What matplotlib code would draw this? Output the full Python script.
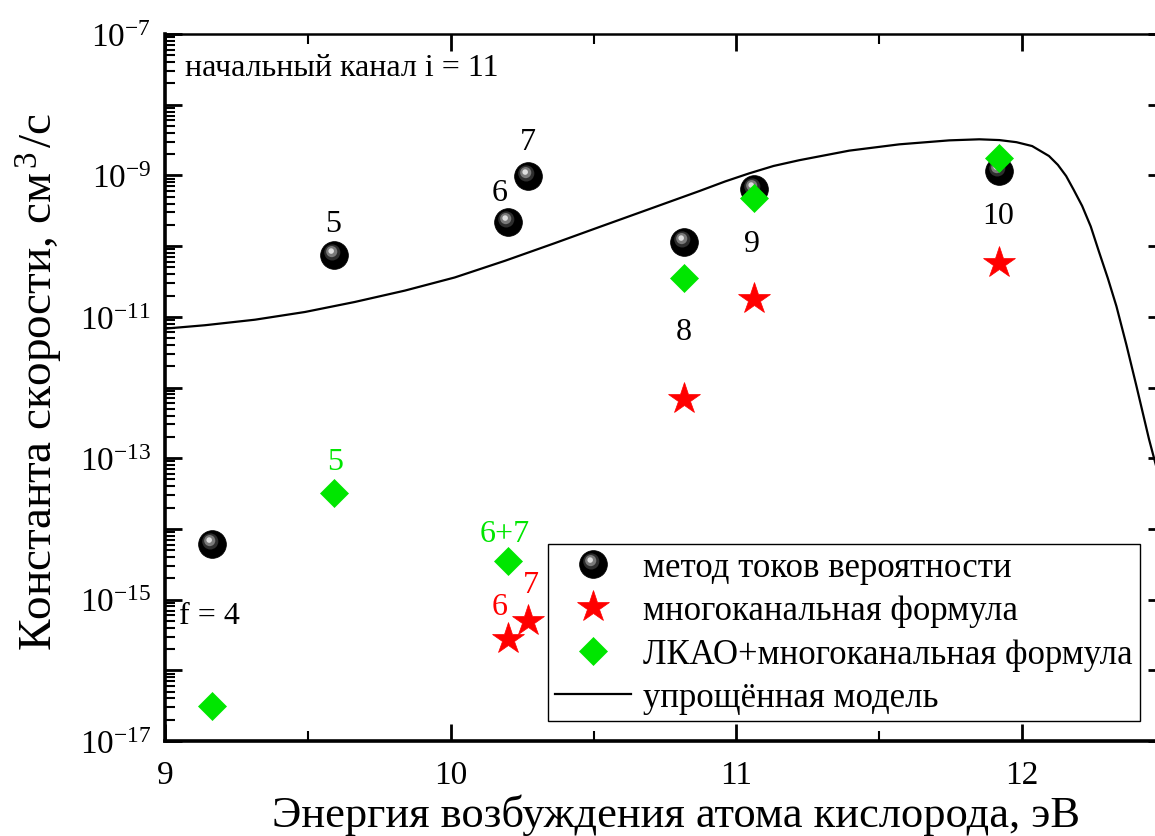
import numpy as np
import matplotlib
matplotlib.use("Agg")
import matplotlib.pyplot as plt
from matplotlib.path import Path
from matplotlib.legend_handler import HandlerTuple
from matplotlib.ticker import FixedLocator, FuncFormatter

plt.rcParams['font.family'] = ['Liberation Serif', 'DejaVu Serif']
plt.rcParams['mathtext.fontset'] = 'custom'
plt.rcParams['mathtext.rm'] = 'Liberation Serif'
plt.rcParams['mathtext.it'] = 'Liberation Serif:italic'
plt.rcParams['mathtext.default'] = 'regular'

# ---------------- data ----------------
energy_current = [9.164, 9.591, 10.199, 10.269, 10.815, 11.063, 11.92]
k_current = [6.1e-15, 7.5e-11, 2.2e-10, 9.8e-10, 1.14e-10, 6.4e-10, 1.15e-9]

energy_multi = [10.199, 10.269, 10.815, 11.063, 11.92]
k_multi = [2.8e-16, 5.0e-16, 6.9e-13, 1.8e-11, 5.8e-11]

energy_lcao = [9.164, 9.591, 10.199, 10.815, 11.063, 11.92]
k_lcao = [3.1e-17, 3.2e-14, 3.5e-15, 3.5e-11, 4.8e-10, 1.76e-9]

energy_model = [9.00, 9.14, 9.315, 9.49, 9.664, 9.84, 10.014, 10.19, 10.364,
                10.52, 10.696, 10.87, 10.96, 11.045, 11.13, 11.22, 11.395, 11.57,
                11.745, 11.85, 11.92, 11.98, 12.035, 12.094, 12.125, 12.154,
                12.18, 12.21, 12.24, 12.269, 12.30, 12.33, 12.365, 12.40,
                12.444, 12.5]
k_model = [6.8e-12, 7.6e-12, 9.1e-12, 1.17e-11, 1.62e-11, 2.35e-11, 3.6e-11,
           6.2e-11, 1.1e-10, 1.86e-10, 3.35e-10, 6.0e-10, 8.2e-10, 1.07e-9,
           1.36e-9, 1.64e-9, 2.24e-9, 2.75e-9, 3.13e-9, 3.24e-9, 3.16e-9,
           2.95e-9, 2.6e-9, 1.88e-9, 1.41e-9, 9.8e-10, 6.3e-10, 3.7e-10,
           1.9e-10, 8.3e-11, 3.5e-11, 1.41e-11, 4.0e-12, 1.05e-12, 1.86e-13,
           2.6e-14]

label_current = ["метод токов вероятности"]
label_multi = ["многоканальная формула"]
label_lcao = ["ЛКАО+многоканальная формула"]
label_model = ["упрощённая модель"]

x_ticks = [9, 10, 11, 12]
y_decades = list(range(-17, -6))

# ---------------- figure ----------------
W, H = 1155, 837
fig = plt.figure(figsize=(W / 100, H / 100), dpi=100)
ax = fig.add_axes([165 / W, 1 - 742 / H, 1000 / W, 707 / H])
ax.set_xlim(9, 12.5)
ax.set_yscale('log')
ax.set_ylim(1e-17, 1e-7)

GREEN = '#00e600'
RED = '#ff0000'


def spot(cx, cy, r):
    c = Path.circle(center=(cx, cy), radius=r)
    verts = np.concatenate([[[-1, -1], [1, 1]], c.vertices])
    codes = np.concatenate([[Path.MOVETO, Path.MOVETO], c.codes])
    return Path(verts, codes)


spot1 = spot(-0.16, 0.22, 0.58)
spot2 = spot(-0.2, 0.28, 0.4)
spot3 = spot(-0.24, 0.32, 0.2)

ms_sphere = 20
(l_model,) = ax.plot(energy_model, k_model, color='black', lw=1.6, zorder=2)
(s0,) = ax.plot(energy_current, k_current, ls='none', marker='o', ms=ms_sphere,
                mfc='black', mec='black', mew=0.5, zorder=3)
(s1,) = ax.plot(energy_current, k_current, ls='none', marker=spot1, ms=ms_sphere,
                mfc='#2e2e2e', mec='none', zorder=3.1)
(s2,) = ax.plot(energy_current, k_current, ls='none', marker=spot2, ms=ms_sphere,
                mfc='#7a7a7a', mec='none', zorder=3.2)
(s3,) = ax.plot(energy_current, k_current, ls='none', marker=spot3, ms=ms_sphere,
                mfc='#dedede', mec='none', zorder=3.3)
(st,) = ax.plot(energy_multi, k_multi, ls='none', marker='*', ms=24,
                mfc=RED, mec=RED, mew=0.5, zorder=4)
(dm,) = ax.plot(energy_lcao, k_lcao, ls='none', marker='D', ms=14,
                mfc=GREEN, mec=GREEN, mew=0.5, zorder=5)

# ---------------- annotations ----------------
fs_ann = 23
ann_black = [("5", 9.59, 2.1e-10), ("6", 10.17, 5.8e-10), ("7", 10.27, 3.0e-9),
             ("8", 10.815, 6.1e-12), ("9", 11.055, 1.1e-10), ("10", 11.915, 2.7e-10)]
for t, x, y in ann_black:
    ax.text(x, y, t, fontsize=fs_ann, ha='center', va='center', color='black', zorder=6)
for t, x, y in [("5", 9.594, 9.1e-14), ("6+7", 10.19, 8.5e-15)]:
    ax.text(x, y, t, fontsize=fs_ann, ha='center', va='center', color=GREEN, zorder=6)
for t, x, y in [("6", 10.17, 7.9e-16), ("7", 10.28, 1.66e-15)]:
    ax.text(x, y, t, fontsize=fs_ann, ha='center', va='center', color=RED, zorder=6)
ax.text(9.05, 5.9e-16, "f = 4", fontsize=fs_ann, ha='left', va='center')
ax.text(0.02, 0.953, "начальный канал i = 11", fontsize=fs_ann, ha='left',
        va='center', transform=ax.transAxes)

# ---------------- ticks ----------------
ax.xaxis.set_major_locator(FixedLocator(x_ticks))
ax.xaxis.set_minor_locator(FixedLocator([9.5, 10.5, 11.5, 12.5]))
ax.yaxis.set_major_locator(FixedLocator([10.0 ** d for d in y_decades]))
ax.yaxis.set_minor_locator(FixedLocator([m * 10.0 ** d for d in y_decades[:-1] for m in range(2, 10)]))


def yfmt(v, pos):
    e = int(round(np.log10(v)))
    return r'$10^{%d}$' % e if e % 2 != 0 else ''


ax.yaxis.set_major_formatter(FuncFormatter(yfmt))
ax.xaxis.set_major_formatter(FuncFormatter(lambda v, p: '%d' % v))

ax.tick_params(which='both', direction='in', top=True, right=True)
ax.tick_params(which='major', length=12, width=2.0)
ax.tick_params(which='minor', length=7, width=1.5)
ax.tick_params(axis='x', which='major', labelsize=24, pad=13)
ax.tick_params(axis='y', which='major', labelsize=24, pad=10)
ax.tick_params(axis='y', which='minor', right=False)

for side in ['left', 'bottom']:
    ax.spines[side].set_linewidth(2.6)
for side in ['top', 'right']:
    ax.spines[side].set_linewidth(1.8)

ax.set_xlabel("Энергия возбуждения атома кислорода, эВ", fontsize=32)
ax.set_ylabel(r"Константа скорости, см$^{\,3\,}$/с", fontsize=34)
ax.xaxis.label.set_va('center')
ax.yaxis.label.set_va('center')
ax.xaxis.set_label_coords(0.511, -0.103)
ax.yaxis.set_label_coords(-0.125, 0.51)

# ---------------- legend ----------------
leg = ax.legend([(s0, s1, s2, s3), st, dm, l_model],
                label_current + label_multi + label_lcao + label_model,
                handler_map={tuple: HandlerTuple(ndivide=1)},
                loc='lower left', bbox_to_anchor=(0.383, 0.028),
                borderaxespad=0, fontsize=25, frameon=True, fancybox=False,
                edgecolor='black', framealpha=1, handlelength=2.2,
                handletextpad=0.35, borderpad=0.2, labelspacing=0.3)
leg.get_frame().set_linewidth(1.0)

fig.savefig("out.png", dpi=100)
